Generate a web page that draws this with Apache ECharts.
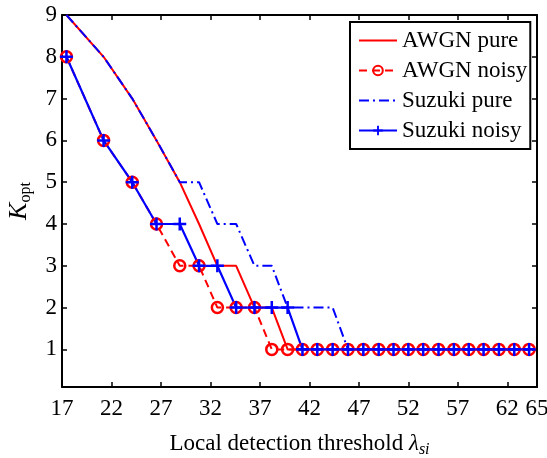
<!DOCTYPE html>
<html>
<head>
<meta charset="utf-8">
<script src="https://cdn.jsdelivr.net/npm/echarts@6/dist/echarts.min.js"></script>
<style>
  html, body { margin: 0; padding: 0; background: #fff; }
  #chart { width: 547px; height: 458px; }
</style>
</head>
<body>
<div id="chart"></div>
<script>
// local detection threshold values (x)
const thresholds = [17.45, 21.2, 24.1, 26.55, 28.9, 30.85, 32.7, 34.6, 36.45, 38.2, 39.8,
  41.3, 42.8, 44.35, 45.9, 47.45, 49.0, 50.5, 52.0, 53.5, 55.05, 56.6, 58.1, 59.6, 61.15, 62.7, 64.2];

// K_opt per series
const awgnPure    = [9, 8, 7, 6, 5, 4, 3, 3, 2, 2, 1, 1, 1, 1, 1, 1, 1, 1, 1, 1, 1, 1, 1, 1, 1, 1, 1];
const awgnNoisy   = [8, 6, 5, 4, 3, 3, 2, 2, 2, 1, 1, 1, 1, 1, 1, 1, 1, 1, 1, 1, 1, 1, 1, 1, 1, 1, 1];
const suzukiPure  = [9, 8, 7, 6, 5, 5, 4, 4, 3, 3, 2, 2, 2, 2, 1, 1, 1, 1, 1, 1, 1, 1, 1, 1, 1, 1, 1];
const suzukiNoisy = [8, 6, 5, 4, 4, 3, 3, 2, 2, 2, 2, 1, 1, 1, 1, 1, 1, 1, 1, 1, 1, 1, 1, 1, 1, 1, 1];

const seriesNames = ["AWGN pure", "AWGN noisy", "Suzuki pure", "Suzuki noisy"];
const xTicks = [17, 22, 27, 32, 37, 42, 47, 52, 57, 62, 65];
const yTicks = [1, 2, 3, 4, 5, 6, 7, 8, 9];

const serif = "Liberation Serif, Times New Roman, serif";
const RED = "#ff0000";
const BLUE = "#0000ff";
const plus = "path://M5,0h2.4v5h5v2.4h-5v5h-2.4v-5h-5v-2.4h5z";

function pairs(ys) {
  return thresholds.map((x, i) => [x, ys[i]]);
}

const chart = echarts.init(document.getElementById("chart"));

const axisLine = { show: true, onZero: false, lineStyle: { color: "#000", width: 2 } };
const tickIn = (vals) => ({ inside: true, length: 5, customValues: vals, lineStyle: { color: "#000", width: 1.5 } });

chart.setOption({
  animation: false,
  backgroundColor: "#fff",
  grid: { left: 62, right: 10, top: 15, bottom: 71, containLabel: false, outerBoundsMode: "none" },
  legend: {
    orient: "vertical",
    left: 350,
    top: 22,
    data: [
      { name: seriesNames[0], itemStyle: { opacity: 0 } },
      { name: seriesNames[1] },
      { name: seriesNames[2], itemStyle: { opacity: 0 } },
      { name: seriesNames[3] }
    ],
    backgroundColor: "#fff",
    borderColor: "#000",
    borderWidth: 2,
    borderRadius: 0,
    padding: [7, 3, 7, 8],
    itemGap: 7,
    itemWidth: 38,
    itemHeight: 12,
    textStyle: { fontFamily: serif, fontSize: 23, lineHeight: 22, color: "#000" }
  },
  xAxis: [
    {
      type: "value",
      min: 17,
      max: 65,
      position: "bottom",
      axisLine: axisLine,
      axisTick: tickIn(xTicks),
      splitLine: { show: false },
      axisLabel: { customValues: xTicks, margin: 10, fontFamily: serif, fontSize: 23, color: "#000" },
      name: "{a|Local detection threshold }{b|λ}{c|si}",
      nameLocation: "middle",
      nameGap: 43,
      nameTextStyle: {
        rich: {
          a: { fontFamily: serif, fontSize: 23, color: "#000", lineHeight: 28 },
          b: { fontFamily: serif, fontSize: 23, fontStyle: "italic", color: "#000", lineHeight: 28 },
          c: { fontFamily: serif, fontSize: 16, fontStyle: "italic", color: "#000", lineHeight: 15, verticalAlign: "bottom" }
        }
      }
    },
    {
      type: "value",
      min: 17,
      max: 65,
      position: "top",
      axisLine: axisLine,
      axisTick: tickIn(xTicks),
      axisLabel: { show: false },
      splitLine: { show: false }
    }
  ],
  yAxis: [
    {
      type: "value",
      min: 0.1,
      max: 9,
      position: "left",
      axisLine: axisLine,
      axisTick: tickIn(yTicks),
      splitLine: { show: false },
      axisLabel: { customValues: yTicks, margin: 5, fontFamily: serif, fontSize: 23, color: "#000" },
      name: "{k|K}{s|opt}",
      nameLocation: "middle",
      nameRotate: 90,
      nameGap: 28,
      nameTextStyle: {
        rich: {
          k: { fontFamily: serif, fontSize: 26, fontStyle: "italic", color: "#000", lineHeight: 30 },
          s: { fontFamily: serif, fontSize: 16, color: "#000", lineHeight: 15, verticalAlign: "bottom" }
        }
      }
    },
    {
      type: "value",
      min: 0.1,
      max: 9,
      position: "right",
      axisLine: axisLine,
      axisTick: tickIn(yTicks),
      axisLabel: { show: false },
      splitLine: { show: false }
    }
  ],
  series: [
    {
      name: seriesNames[0],
      type: "line",
      data: pairs(awgnPure),
      symbol: "none",
      lineStyle: { color: RED, width: 2 },
      itemStyle: { color: RED }
    },
    {
      name: seriesNames[1],
      type: "line",
      data: pairs(awgnNoisy),
      symbol: "circle",
      symbolSize: 11,
      lineStyle: { color: RED, width: 2, type: [8, 5] },
      itemStyle: { color: "rgba(255,255,255,0)", borderColor: RED, borderWidth: 2.5 }
    },
    {
      name: seriesNames[2],
      type: "line",
      data: pairs(suzukiPure),
      symbol: "none",
      lineStyle: { color: BLUE, width: 2, type: [10, 4, 2, 4] },
      itemStyle: { color: BLUE }
    },
    {
      name: seriesNames[3],
      type: "line",
      data: pairs(suzukiNoisy),
      symbol: plus,
      symbolSize: 13,
      lineStyle: { color: BLUE, width: 2.2 },
      itemStyle: { color: BLUE }
    }
  ]
});
</script>
</body>
</html>
